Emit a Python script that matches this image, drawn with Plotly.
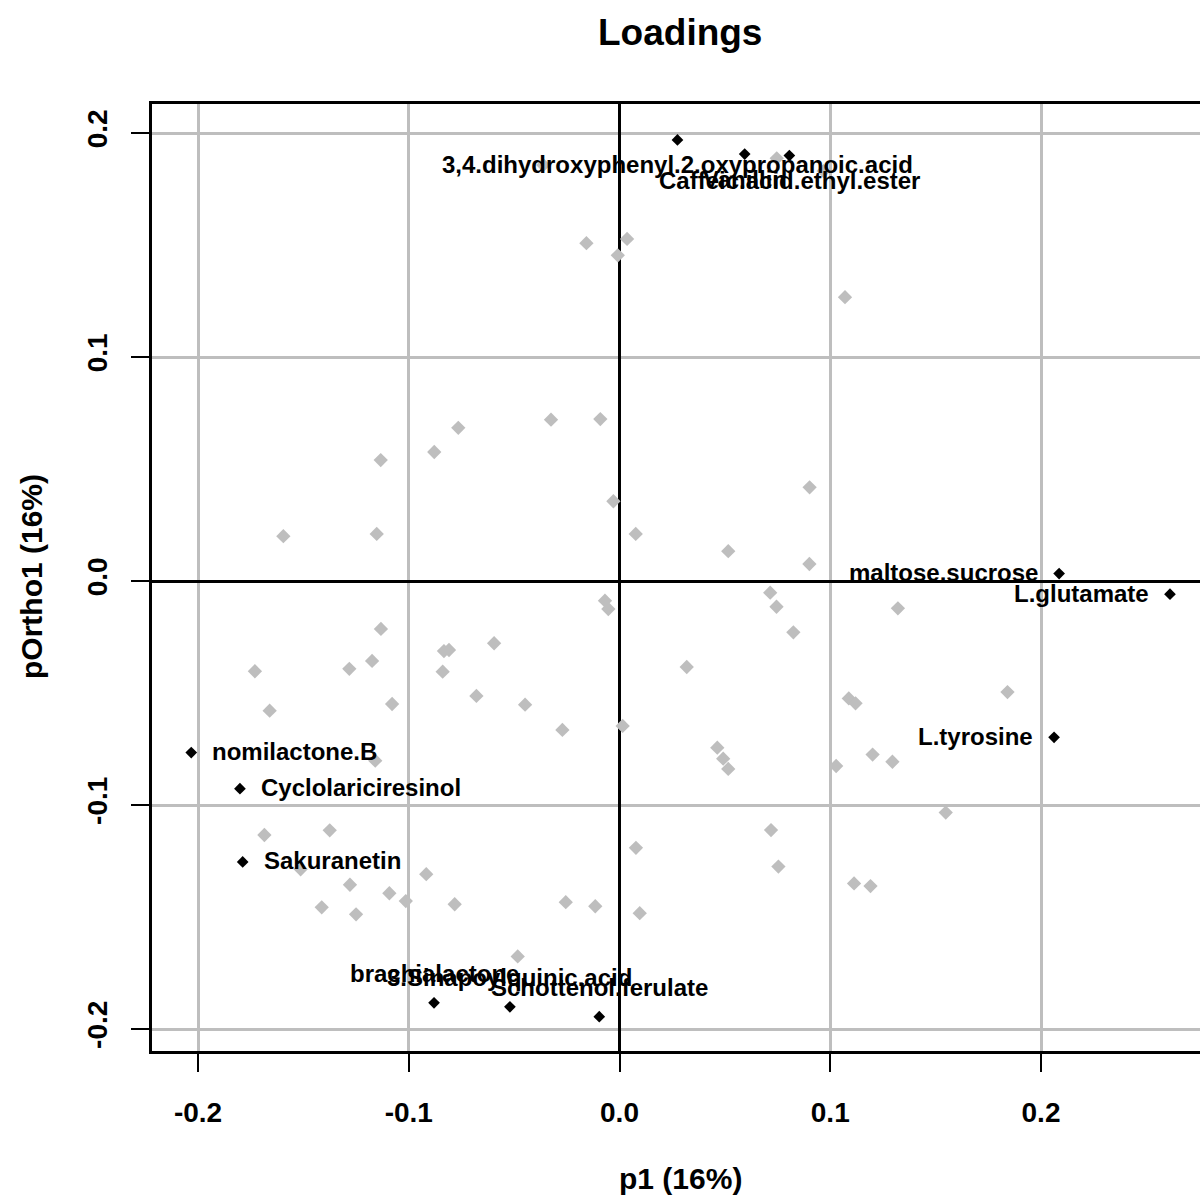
import plotly.graph_objects as go

# ---- data ----
gray_x = [-0.0157, 0.0036, -0.0008, 0.1070, 0.0746, 0.0968, -0.0362, -0.1133, -0.0879, -0.0765,
          -0.0325, -0.0091, -0.0029, -0.1595, -0.1152, 0.0077, -0.0069, -0.0053, -0.1132, -0.1730,
          -0.1282, -0.1174, -0.0833, -0.0809, -0.0595, -0.0839, -0.1660, -0.1079, -0.0679, -0.0448,
          -0.0271, 0.0015, -0.1159, -0.1685, -0.1375, 0.0078, -0.1513, -0.0917, -0.1279, -0.1092,
          -0.1014, -0.1413, -0.1250, -0.0782, -0.0255, -0.0115, 0.0096, -0.0483, 0.0902, 0.0516,
          0.0901, 0.0715, 0.0745, 0.1321, 0.0825, 0.0319, 0.1088, 0.1120, 0.1841, 0.0464,
          0.0492, 0.0516, 0.1201, 0.1295, 0.1028, 0.1548, 0.0719, 0.0754, 0.1113, 0.1191]
gray_y = [0.1508, 0.1527, 0.1454, 0.1267, 0.1887, 0.1830, 0.1857, 0.0540, 0.0576, 0.0684,
          0.0720, 0.0723, 0.0356, 0.0200, 0.0210, 0.0210, -0.0088, -0.0125, -0.0214, -0.0403,
          -0.0392, -0.0357, -0.0313, -0.0308, -0.0278, -0.0405, -0.0579, -0.0549, -0.0513, -0.0552,
          -0.0665, -0.0647, -0.0802, -0.1134, -0.1113, -0.1191, -0.1287, -0.1309, -0.1356, -0.1394,
          -0.1429, -0.1457, -0.1488, -0.1443, -0.1434, -0.1452, -0.1483, -0.1676, 0.0418, 0.0133,
          0.0076, -0.0052, -0.0115, -0.0122, -0.0229, -0.0384, -0.0524, -0.0546, -0.0496, -0.0744,
          -0.0793, -0.0839, -0.0775, -0.0807, -0.0826, -0.1034, -0.1112, -0.1275, -0.1350, -0.1362]

label_names = ["3,4.dihydroxyphenyl.2.oxypropanoic.acid", "Vanillin", "Caffeic.acid.ethyl.ester",
               "maltose.sucrose", "L.glutamate", "L.tyrosine", "nomilactone.B",
               "Cyclolariciresinol", "Sakuranetin", "brachialactone",
               "3.Sinapoylquinic.acid", "Schottenol.ferulate"]
label_x = [0.0275, 0.0594, 0.0806, 0.2086, 0.2612, 0.2062, -0.2032, -0.1801, -0.1788,
           -0.0880, -0.0520, -0.0096]
label_y = [0.1969, 0.1906, 0.1899, 0.0033, -0.0059, -0.0698, -0.0766, -0.0927, -0.1254,
           -0.1883, -0.1901, -0.1945]

x_ticks = [-0.2, -0.1, 0.0, 0.1, 0.2]
y_ticks = [-0.2, -0.1, 0.0, 0.1, 0.2]
x_title = "p1 (16%)"
y_title = "pOrtho1 (16%)"
main_title = "Loadings"

FONT = "Liberation Sans, Arial, Helvetica, sans-serif"
GRAY = "#BEBEBE"

W, H = 1200, 1198
ML, MT, MR, MB = 152, 104, 0, 147
plot_h = H - MT - MB
plot_w = W - ML - MR


def px_to_paper_y(py):
    return (H - MB - py) / plot_h


def px_to_paper_x(px):
    return (px - ML) / plot_w


fig = go.Figure()
fig.add_trace(go.Scatter(x=gray_x, y=gray_y, mode="markers",
                         marker=dict(symbol="diamond", size=11, color=GRAY),
                         hoverinfo="skip", showlegend=False))
fig.add_trace(go.Scatter(x=label_x, y=label_y, mode="markers",
                         marker=dict(symbol="diamond", size=9, color="black"),
                         text=label_names, showlegend=False))

for name, x, y in zip(label_names, label_x, label_y):
    if x < -0.15:
        kw = dict(xanchor="left", yanchor="middle", xshift=19, yshift=1)
    elif x > 0.15:
        kw = dict(xanchor="right", yanchor="middle", xshift=-19, yshift=1)
    elif y > 0:
        kw = dict(xanchor="center", yanchor="middle", yshift=-25)
    else:
        kw = dict(xanchor="center", yanchor="middle", yshift=29)
    fig.add_annotation(x=x, y=y, xref="x", yref="y", text=name, showarrow=False,
                       font=dict(family=FONT, size=24, color="black", weight="bold"), **kw)

fig.add_annotation(x=px_to_paper_x(680), y=px_to_paper_y(32), xref="paper", yref="paper",
                   text=main_title, showarrow=False, xanchor="center", yanchor="middle",
                   font=dict(family=FONT, size=37, color="black", weight="bold"))
fig.add_annotation(x=px_to_paper_x(680), y=px_to_paper_y(1178), xref="paper", yref="paper",
                   text=x_title, showarrow=False, xanchor="center", yanchor="middle",
                   font=dict(family=FONT, size=30, color="black", weight="bold"))
fig.add_annotation(x=px_to_paper_x(31), y=px_to_paper_y(577), xref="paper", yref="paper",
                   text=y_title, showarrow=False, xanchor="center", yanchor="middle",
                   textangle=-90,
                   font=dict(family=FONT, size=30, color="black", weight="bold"))

xr = [(ML - 619.5) / 2107.5, (W - MR - 619.5) / 2107.5]
yr = [(581 - (H - MB)) / 2240, (581 - MT) / 2240]

fig.update_xaxes(range=xr, tickvals=x_ticks, ticktext=[f"{v:.1f}" for v in x_ticks],
                 showgrid=True, gridcolor=GRAY, gridwidth=3,
                 zeroline=True, zerolinecolor="black", zerolinewidth=3,
                 showline=True, linecolor="black", linewidth=3, mirror=True,
                 ticks="outside", ticklen=18, tickwidth=1.5, tickcolor="black",
                 ticklabelstandoff=16,
                 tickfont=dict(family=FONT, size=28, color="black", weight="bold"))
fig.update_yaxes(range=yr, tickvals=y_ticks, ticktext=[f"{v:.1f}" for v in y_ticks],
                 showgrid=True, gridcolor=GRAY, gridwidth=3,
                 zeroline=True, zerolinecolor="black", zerolinewidth=3,
                 showline=True, linecolor="black", linewidth=3, mirror=False,
                 ticks="outside", ticklen=18, tickwidth=1.5, tickcolor="black",
                 tickangle=-90, ticklabelstandoff=13,
                 tickfont=dict(family=FONT, size=28, color="black", weight="bold"))

fig.update_layout(width=W, height=H, margin=dict(l=ML, r=MR, t=MT, b=MB, pad=0),
                  plot_bgcolor="white", paper_bgcolor="white", showlegend=False)

fig.write_html("out.html", config={"displayModeBar": False},
               post_script="document.body.style.margin='0';document.body.style.overflow='hidden';")
